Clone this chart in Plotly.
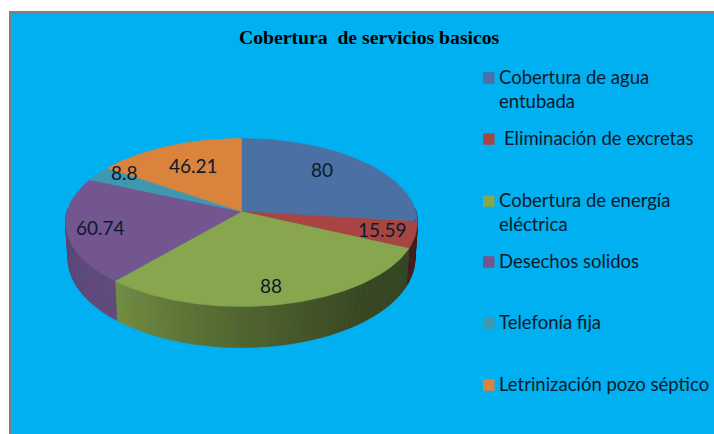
import numpy as np
import plotly.graph_objects as go

# ---- data ----
categories = ["Cobertura de agua<br>entubada", " Eliminación de excretas",
              "Cobertura de energía<br>eléctrica", "Desechos solidos",
              "Telefonía fija", "Letrinización pozo séptico"]
values = [80, 15.59, 88, 60.74, 8.8, 46.21]
value_labels = ["80", "15.59", "88", "60.74", "8.8", "46.21"]
colors = ["#4a70a4", "#a84442", "#87a64d", "#735690", "#3f98b0", "#d9833c"]

# ---- layout constants (pixels of the 714x434 page) ----
W, H = 714, 434
BLUE = "#00b0f0"
CX, CY, A, B, K = 241.5, 211.5, 174.5, 82.6, 0.131
DEPTH, SHRINK = 35.6, 0.985
label_xy = [(322, 169), (382, 229), (271, 285), (100, 227), (124, 172), (193, 165)]
legend_y = [(78, 90), (139, 139), (201, 213), (262, 262), (323, 323), (385, 385)]
LEG_BOX_X, LEG_TXT_X, BOX = 483, 497, 11.5
FONT = "Lato"
TEXT = "#0b1a2a"


def project(theta_deg, lower=False):
    t = np.radians(np.asarray(theta_deg, dtype=float))
    u, v = np.sin(t), np.cos(t)
    s = 1 / (1 + K * v)
    x = CX + A * u * s
    y = CY - B * v * s
    if lower:
        x = CX + (x - CX) * SHRINK
        y = y + DEPTH * s
    return x, y


def shade(hex_c, f):
    r, g, b = (int(hex_c[i:i + 2], 16) for i in (1, 3, 5))
    return f"rgb({r * f:.0f},{g * f:.0f},{b * f:.0f})"


def side_factor(theta):
    return float(np.interp(theta, [90, 140, 160, 190, 222, 270],
                           [0.40, 0.42, 0.50, 0.66, 0.86, 0.78]))


edges = np.concatenate([[0], np.cumsum(values)]) / sum(values) * 360
fig = go.Figure()


def poly(x, y, color):
    fig.add_trace(go.Scatter(x=list(x), y=list(y), mode="lines", fill="toself",
                             fillcolor=color, line=dict(color=color, width=0.6),
                             hoverinfo="skip", showlegend=False))


# side wall, in thin strips for the shading
for i, c in enumerate(colors):
    a0, a1 = max(edges[i], 88), min(edges[i + 1], 272)
    if a1 <= a0:
        continue
    n = max(1, int((a1 - a0) / 1.5))
    steps = np.linspace(a0, a1, n + 1)
    for s0, s1 in zip(steps[:-1], steps[1:]):
        th = np.array([s0, s1])
        xt, yt = project(th)
        xb, yb = project(th[::-1], lower=True)
        poly(np.r_[xt, xb, xt[0]], np.r_[yt, yb, yt[0]],
             shade(c, side_factor((s0 + s1) / 2)))

# top face
for i, c in enumerate(colors):
    th = np.linspace(edges[i], edges[i + 1], 120)
    x, y = project(th)
    fig.add_trace(go.Scatter(x=np.r_[CX, x, CX], y=np.r_[CY, y, CY], mode="lines", fill="toself",
                             fillcolor=c, line=dict(color=c, width=0.5),
                             name=categories[i].replace("<br>", " "), showlegend=False,
                             hovertemplate=f"{value_labels[i]}<extra></extra>"))

annotations = [dict(x=x, y=y, text=t, showarrow=False, xanchor="center", yanchor="middle",
                    font=dict(family=FONT, size=19, color=TEXT))
               for t, (x, y) in zip(value_labels, label_xy)]

shapes = [dict(type="rect", layer="below", x0=10, y0=12, x1=W + 5, y1=H + 5,
               fillcolor=BLUE, line=dict(color="#7f7f7f", width=2))]

for name, c, (y1, y2) in zip(categories, colors, legend_y):
    shapes.append(dict(type="rect", x0=LEG_BOX_X, x1=LEG_BOX_X + BOX, y0=y1 - BOX / 2, y1=y1 + BOX / 2,
                       fillcolor=c, line=dict(width=0)))
    for ln, yy in zip(name.split("<br>"), (y1 - 1, y1 + 23)):
        annotations.append(dict(x=LEG_TXT_X + (5 if ln.startswith(" ") else 0), y=yy,
                                text=ln.strip(), showarrow=False, xanchor="left", yanchor="middle",
                                font=dict(family=FONT, size=18.5, color=TEXT)))

annotations.append(dict(x=369, y=36.5, text="<b>Cobertura  de servicios basicos</b>", showarrow=False,
                        xanchor="center", yanchor="middle",
                        font=dict(family="Liberation Serif", size=19.7, color="#000000")))

fig.update_layout(width=W, height=H, margin=dict(l=0, r=0, t=0, b=0),
                  paper_bgcolor="#ffffff", plot_bgcolor="rgba(0,0,0,0)", showlegend=False,
                  xaxis=dict(range=[0, W], visible=False, fixedrange=True),
                  yaxis=dict(range=[H, 0], visible=False, fixedrange=True),
                  shapes=shapes, annotations=annotations)
fig.write_html("out.html", config=dict(displayModeBar=False),
               post_script="document.body.style.margin='0';document.body.style.overflow='hidden';")
